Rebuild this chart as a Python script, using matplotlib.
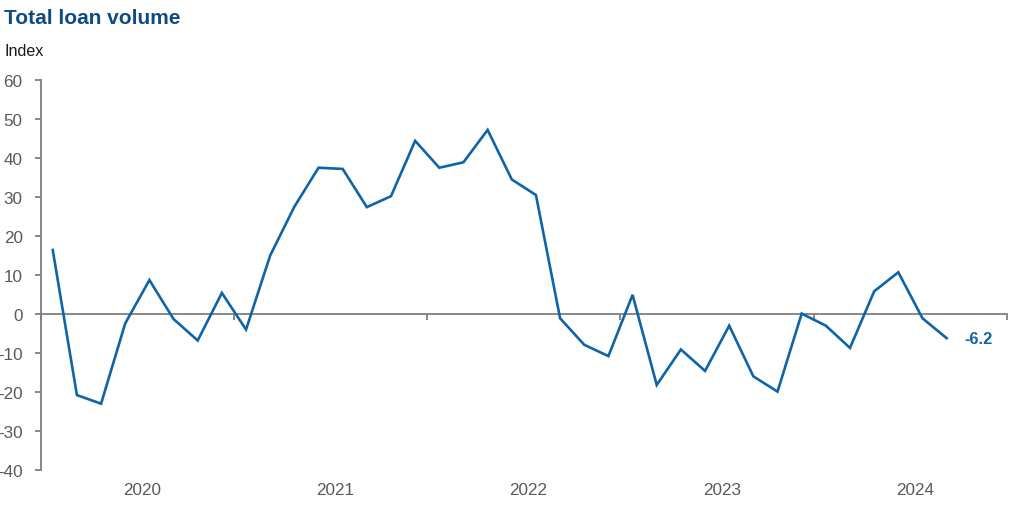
import numpy as np
import matplotlib
matplotlib.use("Agg")
import matplotlib.pyplot as plt
from matplotlib import transforms

# ---- data ----
years = ["2020", "2021", "2022", "2023", "2024"]
surveys_per_year = 8
loan_volume = [16.4, -20.8, -23.0, -2.4, 8.7, -1.3, -6.8, 5.4,
               -4.0, 15.0, 27.5, 37.5, 37.2, 27.4, 30.2, 44.4,
               37.5, 38.9, 47.2, 34.5, 30.5, -1.1, -7.9, -10.8,
               4.9, -18.2, -9.1, -14.6, -3.0, -16.0, -19.9, 0.1,
               -3.0, -8.7, 5.8, 10.7, -1.1, -6.2]
y_ticks = [60, 50, 40, 30, 20, 10, 0, -10, -20, -30, -40]
last_label = "-6.2"

# ---- style ----
plt.rcParams['font.family'] = ['Liberation Sans', 'DejaVu Sans']
line_color = "#0F64A8"
title_color = "#0E4B82"
axis_color = "#7F7F7F"
label_color = "#595959"

fig = plt.figure(figsize=(10.3, 5.1), dpi=100)
ax = fig.add_axes([0.0395, 0.0765, 0.9382, 0.7647])

x = (np.arange(len(loan_volume)) + 0.5) / surveys_per_year
ax.plot(x, loan_volume, color=line_color, lw=1.9, solid_joinstyle='miter', zorder=3)

ax.set_xlim(0, len(years))
ax.set_ylim(-40, 60)

# spines
for s in ['top', 'right']:
    ax.spines[s].set_visible(False)
ax.spines['bottom'].set_position(('data', 0))
ax.spines['bottom'].set_color(axis_color)
ax.spines['bottom'].set_linewidth(1.3)
ax.spines['left'].set_color(axis_color)
ax.spines['left'].set_linewidth(1.3)

ax.set_yticks(y_ticks)
ax.set_yticklabels([str(v) for v in y_ticks])
ax.tick_params(axis='y', direction='out', length=4, width=1.3, color=axis_color,
               labelsize=12.3, labelcolor=label_color, pad=9)

ax.set_xticks(np.arange(len(years) + 1))
ax.set_xticklabels([])
ax.tick_params(axis='x', direction='out', length=4, width=1.3, color=axis_color)

# year labels at the bottom
off = transforms.ScaledTranslation(4.5 / 100, -19.5 / 100, fig.dpi_scale_trans)
trans = transforms.blended_transform_factory(ax.transData, ax.transAxes) + off
for i, yr in enumerate(years):
    ax.text(i + 0.5, 0, yr, transform=trans, ha='center', va='center',
            fontsize=12.3, color=label_color)

# end label
ax.annotate(last_label, xy=(x[-1], loan_volume[-1]), xytext=(13, 0),
            textcoords='offset points', ha='left', va='center',
            fontsize=11.8, fontweight='bold', color=line_color)

fig.text(4 / 1030, 1 - 18 / 510, "Total loan volume", fontsize=15, fontweight='bold',
         color=title_color, ha='left', va='center')
fig.text(5 / 1030, 1 - 52 / 510, "Index", fontsize=11.6, color='#1A1A1A',
         ha='left', va='center')

fig.savefig("out.png", dpi=100)
